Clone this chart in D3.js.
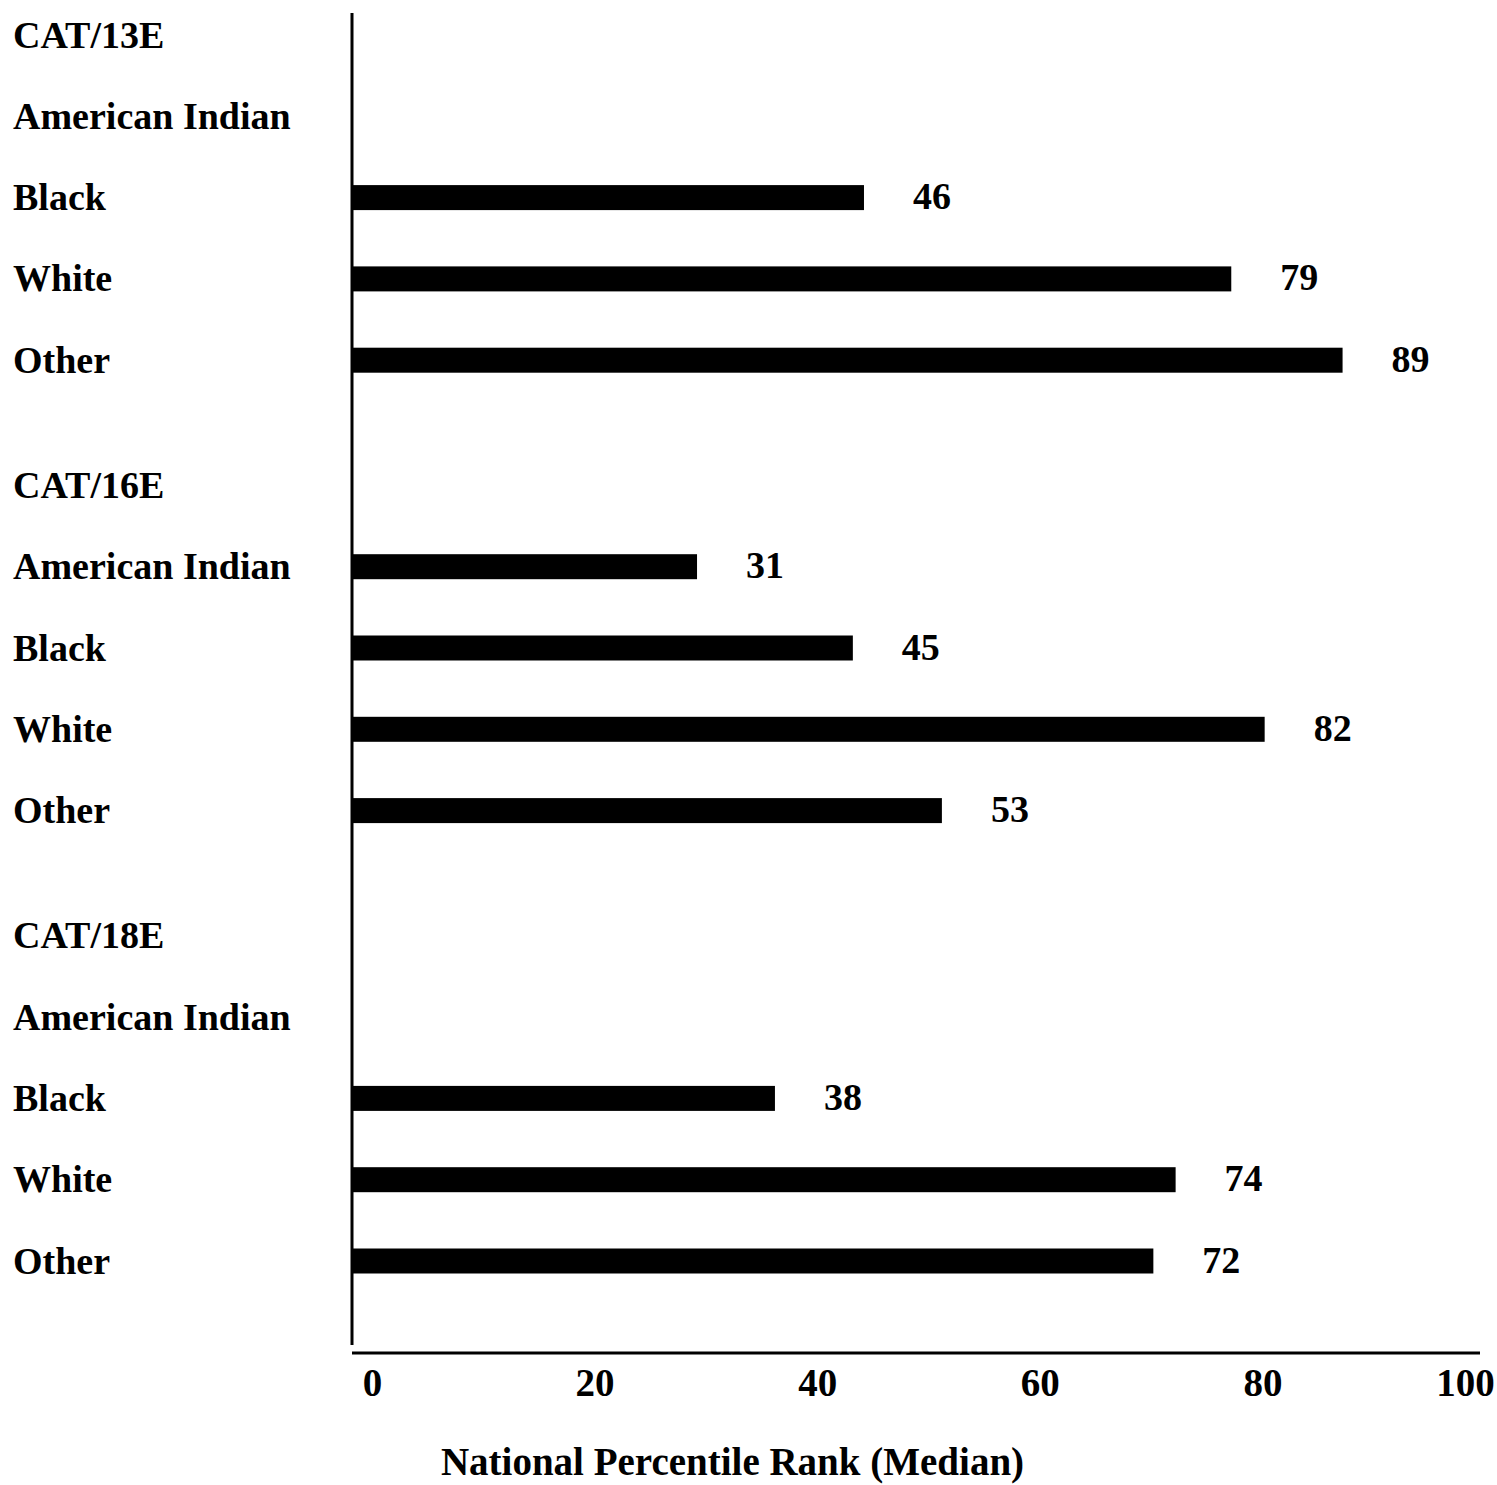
<!DOCTYPE html>
<html>
<head>
<meta charset="utf-8">
<script src="https://cdn.jsdelivr.net/npm/d3@7"></script>
<style>
  html, body { margin: 0; padding: 0; background: #fff; }
  svg { display: block; }
  text { font-family: "Liberation Serif", "Times New Roman", serif; fill: #000; }
</style>
</head>
<body>
<script>
// ---- data ----
const groups = ["CAT/13E", "CAT/16E", "CAT/18E"];
const categories = ["American Indian", "Black", "White", "Other"];
const valuesCAT13E = [null, 46, 79, 89];
const valuesCAT16E = [31, 45, 82, 53];
const valuesCAT18E = [null, 38, 74, 72];
const xTicks = [0, 20, 40, 60, 80, 100];
const xTitle = "National Percentile Rank (Median)";

// ---- layout ----
const W = 1497, H = 1485;
const groupValues = [valuesCAT13E, valuesCAT16E, valuesCAT18E];
const groupStride = 5.54;          // in row units
const rows = [];
groups.forEach((g, gi) => {
  rows.push({ label: g, header: true, slot: gi * groupStride, value: null });
  categories.forEach((c, ci) => {
    rows.push({ label: c, header: false, slot: gi * groupStride + ci + 1, value: groupValues[gi][ci] });
  });
});
const lastSlot = d3.max(rows, d => d.slot);

const x = d3.scaleLinear().domain([0, 100]).range([352, 1465]);
const y = d3.scaleLinear().domain([0, lastSlot]).range([35, 1261]);

const svg = d3.select("body").append("svg").attr("width", W).attr("height", H);

const labelSize = 38;
const capHalf = 0.331;

// row labels
svg.append("g").selectAll("text").data(rows).join("text")
  .attr("x", 13)
  .attr("y", d => y(d.slot) + capHalf * labelSize)
  .attr("font-size", labelSize)
  .attr("font-weight", "bold")
  .text(d => d.label);

// bars
const barH = 25;
const barRows = rows.filter(d => d.value != null);
svg.append("g").selectAll("rect").data(barRows).join("rect")
  .attr("x", x(0))
  .attr("y", d => y(d.slot) - barH / 2)
  .attr("width", d => x(d.value) - x(0))
  .attr("height", barH)
  .attr("fill", "#000");

// value labels
const valSize = 38;
svg.append("g").selectAll("text").data(barRows).join("text")
  .attr("x", d => x(d.value) + 68)
  .attr("y", d => y(d.slot) - 1 + capHalf * valSize)
  .attr("text-anchor", "middle")
  .attr("font-size", valSize)
  .attr("font-weight", "bold")
  .text(d => d.value);

// vertical axis line
svg.append("line")
  .attr("x1", x(0)).attr("x2", x(0))
  .attr("y1", 13).attr("y2", 1345)
  .attr("stroke", "#000").attr("stroke-width", 3);

// x axis
const axisY = 1353;
const xAxis = d3.axisBottom(x).tickValues(xTicks).tickSize(0).tickPadding(0).tickFormat(d3.format("d"));
const ax = svg.append("g").attr("transform", `translate(0,${axisY})`).call(xAxis);
ax.select(".domain").remove();
ax.append("line")
  .attr("x1", x(0)).attr("x2", x(100) + 15)
  .attr("y1", 0).attr("y2", 0)
  .attr("stroke", "#000").attr("stroke-width", 3);
ax.selectAll(".tick text")
  .attr("dy", null)
  .attr("y", 43)
  .attr("dx", d => d === 100 ? 0 : 20)
  .attr("font-size", 39)
  .attr("font-weight", "bold")
  .attr("font-family", "Liberation Serif, serif")
  .attr("fill", "#000");

// axis title
svg.append("text")
  .attr("x", W / 2 - 16)
  .attr("y", 1475)
  .attr("text-anchor", "middle")
  .attr("font-size", 39)
  .attr("font-weight", "bold")
  .text(xTitle);
</script>
</body>
</html>
